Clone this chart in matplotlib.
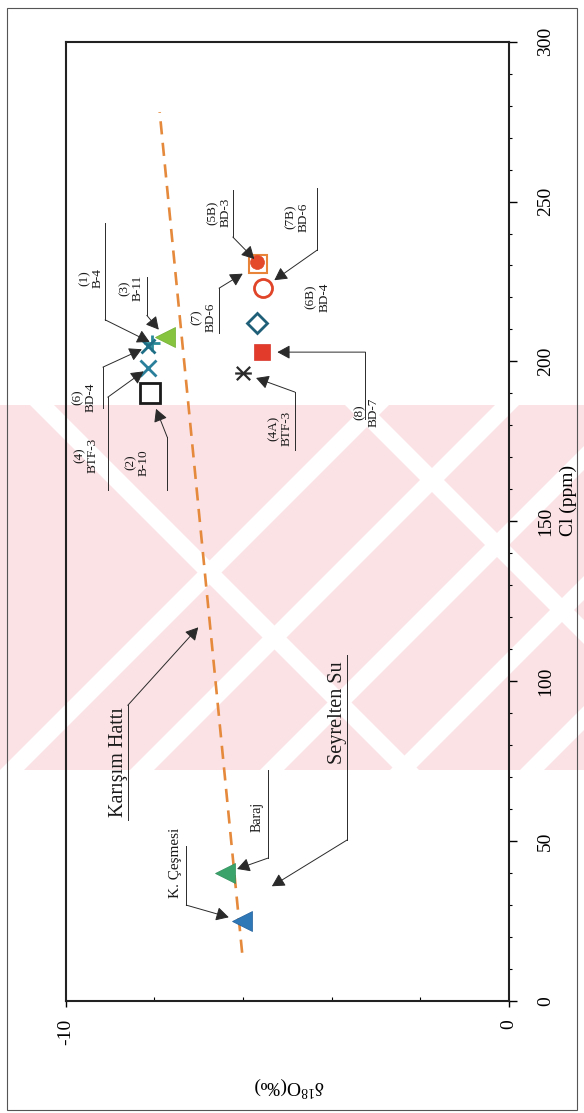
import matplotlib
matplotlib.use("Agg")
import matplotlib.pyplot as plt
from matplotlib.path import Path
from matplotlib.patches import Rectangle, Polygon

plt.rcParams['font.family'] = ['Liberation Serif', 'DejaVu Serif']
plt.rcParams['mathtext.fontset'] = 'custom'
plt.rcParams['mathtext.rm'] = 'Liberation Serif'

# ---- data -------------------------------------------------------------
samples = ['(1)\nB-4', '(3)\nB-11', '(6)\nBD-4', '(4)\nBTF-3', '(2)\nB-10',
           '(7)\nBD-6', '(5B)\nBD-3', '(7B)\nBD-6', '(6B)\nBD-4', '(8)\nBD-7',
           '(4A)\nBTF-3', 'Baraj', 'K. Çeşmesi']
cl_ppm = [205.7, 207.6, 204.7, 197.9, 190.0,
          230.4, 231.1, 222.9, 211.9, 202.9,
          196.3, 39.9, 24.9]
d18o = [-8.05, -7.76, -8.14, -8.14, -8.10,
        -5.66, -5.68, -5.55, -5.68, -5.57,
        -6.00, -6.40, -6.02]

mix_cl = [15, 278]
mix_d18o = [-6.02, -7.88]

cl_ticks = [0, 50, 100, 150, 200, 250, 300]
d18o_ticks = [-10, 0]

# ---- marker styles ----------------------------------------------------
asterisk = Path([(-1, -1), (1, 1), (-1, 1), (1, -1), (-1.25, 0), (1.25, 0)],
                [Path.MOVETO, Path.LINETO, Path.MOVETO, Path.LINETO,
                 Path.MOVETO, Path.LINETO])
styles = [
    dict(marker='+', ms=12, mew=2.0, mec='#2a8a98', mfc='none'),
    dict(marker='<', ms=15, mew=0.5, mec='#6fae2e', mfc='#86c440'),
    dict(marker='x', ms=10, mew=2.0, mec='#1f6f86', mfc='none'),
    dict(marker='x', ms=12, mew=2.0, mec='#2a7f9a', mfc='none'),
    dict(marker='s', ms=14, mew=2.0, mec='#1a1a1a', mfc='none'),
    dict(marker='s', ms=13, mew=1.5, mec='#e8843a', mfc='none'),
    dict(marker='o', ms=10, mew=0.5, mec='#e0452a', mfc='#e5492b'),
    dict(marker='o', ms=13, mew=2.0, mec='#e0452a', mfc='none'),
    dict(marker='D', ms=10, mew=2.0, mec='#1f5f78', mfc='none'),
    dict(marker='s', ms=12, mew=0.5, mec='#d8362a', mfc='#e23b2c'),
    dict(marker=asterisk, ms=12, mew=1.6, mec='#2a2a2a', mfc='none'),
    dict(marker='<', ms=15, mew=0.5, mec='#2f8f5c', mfc='#3aa36a'),
    dict(marker='<', ms=14, mew=0.5, mec='#1f5f9a', mfc='#2f78b8'),
]

# ---- label layout (text position, leader line, arrow shrink) -----------
layout = {
    0:  ((-9.42, 226.0), (-9.11, 243.3, 213.0), 2),
    1:  ((-8.53, 222.9), (-8.17, 226.5, 214.4), 7),
    2:  ((-9.59, 188.8), (-9.16, 185.3, 198.2), 5),
    3:  ((-9.54, 170.7), (-9.05, 159.7, 188.8), 4),
    4:  ((-8.39, 168.4), (-7.71, 159.7, 176.3), 12),
    5:  ((-6.89, 213.9), (-6.54, 208.8, 222.9), 13),
    6:  ((-6.54, 246.6), (-6.23, 253.6, 238.9), 3),
    7:  ((-4.78, 245.1), (-4.33, 254.2, 234.8), 10),
    8:  ((-4.32, 220.1), None, None),
    9:  ((-3.21, 184.1), (-3.24, 181.9, 202.9), 11),
    10: ((-5.16, 179.1), (-4.83, 172.2, 190.4), 10),
    11: ((-5.68, 57.4), (-5.44, 72.1, 44.6), 9),
    12: ((-7.53, 43.0), (-7.28, 48.4, 29.9), 10),
}
label_size = {11: 10, 12: 11}

W, H = 584, 1113
fig = plt.figure(figsize=(W / 100, H / 100), dpi=100)

# background layer in pixel units: page frame and faint pink watermark band
bg = fig.add_axes([0, 0, 1, 1], zorder=0)
bg.set_xlim(0, W)
bg.set_ylim(H, 0)
bg.axis('off')
band = Rectangle((0, 405), W, 365, fc='#fbe2e5', ec='none')
bg.add_patch(band)
stripe_w = 24
for c in [770, 900, 1030, 1160, 1290]:
    poly = Polygon([(c - 405, 405), (c - 405 + stripe_w, 405),
                    (c - 770 + stripe_w, 770), (c - 770, 770)],
                   closed=True, fc='white', ec='none')
    poly.set_clip_path(band)
    bg.add_patch(poly)
for c in [-375, -60]:
    poly = Polygon([(405 + c, 405), (405 + c + stripe_w, 405),
                    (770 + c + stripe_w, 770), (770 + c, 770)],
                   closed=True, fc='white', ec='none')
    poly.set_clip_path(band)
    bg.add_patch(poly)
bg.add_patch(Rectangle((7, 8), 570, 1102, fill=False, lw=0.8, ec='#555555'))

ax = fig.add_axes([0.1125, 0.1009, 0.7591, 0.8616], zorder=1)
ax.set_facecolor('none')

# mixing line
ax.plot(mix_d18o, mix_cl, color='#e58a3c', lw=1.9, ls=(0, (5, 3.2)), zorder=2)

for i, (x, y) in enumerate(zip(d18o, cl_ppm)):
    ax.plot([x], [y], ls='none', zorder=3, **styles[i])

arrow_kw = dict(arrowstyle='-|>,head_length=0.55,head_width=0.3',
                color='#2a2a2a', lw=0.7, shrinkA=0, mutation_scale=14)
lead_kw = dict(color='#2a2a2a', lw=0.7)
for i, (txt_pos, lead, shrink) in layout.items():
    ax.text(txt_pos[0], txt_pos[1], samples[i], rotation=90, ha='center', va='center',
            fontsize=label_size.get(i, 9.5), linespacing=1.15, color='#1a1a1a')
    if lead is None:
        continue
    lx, y0, y1 = lead
    ax.plot([lx, lx], [y0, y1], **lead_kw)
    ax.annotate('', xy=(d18o[i], cl_ppm[i]), xytext=(lx, y1),
                arrowprops=dict(shrinkB=shrink, **arrow_kw))

# annotations for the mixing line and the diluting water
ax.text(-8.82, 74.6, 'Karışım Hattı', rotation=90, ha='center', va='center',
        fontsize=14.5, color='#1a1a1a')
ax.plot([-8.60, -8.60], [56.5, 92.4], **lead_kw)
ax.annotate('', xy=(-7.01, 116.8), xytext=(-8.60, 92.4),
            arrowprops=dict(shrinkB=0, **arrow_kw))
ax.text(-3.88, 90.0, 'Seyrelten Su', rotation=90, ha='center', va='center',
        fontsize=14.5, color='#1a1a1a')
ax.plot([-3.65, -3.65], [50.3, 108.1], **lead_kw)
ax.annotate('', xy=(-5.35, 35.8), xytext=(-3.65, 50.3),
            arrowprops=dict(shrinkB=0, **arrow_kw))

# axes
ax.set_xlim(-10, 0)
ax.set_ylim(0, 300)
for s in ax.spines.values():
    s.set_linewidth(1.5)
    s.set_color('#222222')

ax.yaxis.tick_right()
ax.set_yticks(cl_ticks)
ax.set_yticks(range(0, 301, 10), minor=True)
ax.set_yticklabels([str(v) for v in cl_ticks], rotation=90, va='center')
ax.tick_params(axis='y', which='major', direction='out', length=6, width=1.0,
               pad=14, labelsize=14)
ax.tick_params(axis='y', which='minor', direction='out', length=2.5, width=0.8)

ax.set_xticks(d18o_ticks)
ax.set_xticks([-8, -6, -4, -2], minor=True)
ax.set_xticklabels(['-10', '0'], rotation=90, ha='center', va='top')
ax.tick_params(axis='x', which='major', direction='out', length=4, width=1.0,
               pad=9, labelsize=14)
ax.tick_params(axis='x', which='minor', direction='in', length=3, width=0.8)

fig.text(0.495, 0.024, r'$\mathregular{\delta^{18}}$O(‰)', rotation=180,
         ha='center', va='center', fontsize=14)
fig.text(0.974, 0.55, 'Cl (ppm)', rotation=90, ha='center', va='center', fontsize=14)

fig.savefig('out.png', dpi=100)
